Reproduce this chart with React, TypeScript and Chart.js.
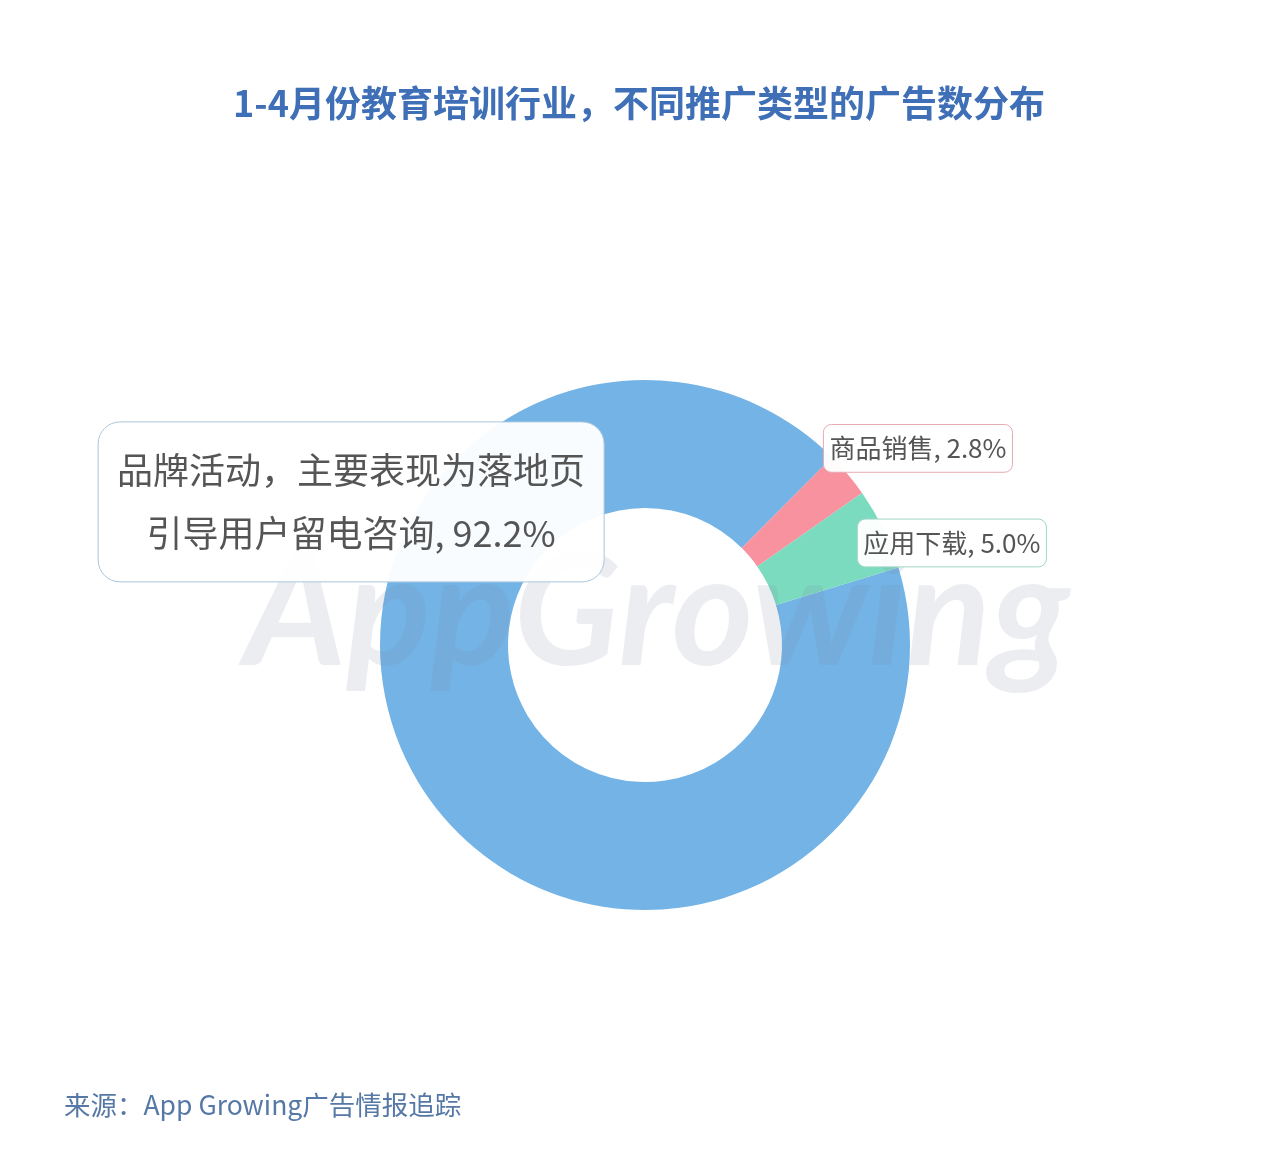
import React, { useEffect, useRef } from "react";
import { Chart, registerables } from "chart.js";

Chart.register(...registerables);

const TITLE = "1-4月份教育培训行业，不同推广类型的广告数分布";
const SOURCE = "来源：App Growing广告情报追踪";
const WATERMARK = "AppGrowing";

const categories = [
  "品牌活动，主要表现为落地页引导用户留电咨询",
  "商品销售",
  "应用下载",
];
const values = [92.2, 2.8, 5.0];
const labelLines = [
  ["品牌活动，主要表现为落地页", "引导用户留电咨询, 92.2%"],
  ["商品销售, 2.8%"],
  ["应用下载, 5.0%"],
];
const sliceColors = ["#74b3e6", "#f8929e", "#7bdbbf"];
const boxBorders = ["#a8c6dc", "#e6a9b0", "#9fd6c6"];

// label box centres relative to chart centre, in units of outer radius
const labelOffsets = [
  [-1.109, -0.54],
  [1.03, -0.742],
  [1.158, -0.385],
];
const labelFont = [36, 26, 26];

const FONT = '"Noto Sans CJK SC", "Noto Sans", sans-serif';

function roundRect(ctx: CanvasRenderingContext2D, x: number, y: number, w: number, h: number, r: number) {
  ctx.beginPath();
  ctx.moveTo(x + r, y);
  ctx.lineTo(x + w - r, y);
  ctx.arcTo(x + w, y, x + w, y + r, r);
  ctx.lineTo(x + w, y + h - r);
  ctx.arcTo(x + w, y + h, x + w - r, y + h, r);
  ctx.lineTo(x + r, y + h);
  ctx.arcTo(x, y + h, x, y + h - r, r);
  ctx.lineTo(x, y + r);
  ctx.arcTo(x, y, x + r, y, r);
  ctx.closePath();
}

const decorPlugin = {
  id: "decor",
  afterDatasetsDraw(chart: any) {
    const ctx: CanvasRenderingContext2D = chart.ctx;
    const meta = chart.getDatasetMeta(0);
    const a0 = meta.data[0];
    const { x: cx, y: cy, outerRadius: r } = a0.getProps(["x", "y", "outerRadius"], true);
    const W = chart.width;

    ctx.save();
    // watermark
    ctx.font = `italic 700 155px Lato, "Open Sans", sans-serif`;
    ctx.textAlign = "center";
    ctx.textBaseline = "alphabetic";
    const ww = ctx.measureText(WATERMARK).width;
    const scale = 825 / ww;
    ctx.translate(cx + 12, cy + 20);
    ctx.scale(scale, 1);
    ctx.fillStyle = "rgba(120,135,160,0.15)";
    ctx.fillText(WATERMARK, 0, 0);
    ctx.restore();

    // labels
    labelLines.forEach((lines, i) => {
      const fs = labelFont[i];
      ctx.save();
      ctx.font = `400 ${fs}px ${FONT}`;
      const lh = i === 0 ? 63 : fs * 1.3;
      const tw = Math.max(...lines.map((l) => ctx.measureText(l).width));
      const padX = i === 0 ? 19 : 6;
      const padY = i === 0 ? 17 : 7;
      const bw = tw + padX * 2;
      const bh = lh * lines.length + padY * 2;
      const bx = cx + labelOffsets[i][0] * r - bw / 2;
      const by = cy + labelOffsets[i][1] * r - bh / 2;
      roundRect(ctx, bx, by, bw, bh, i === 0 ? 22 : 8);
      ctx.fillStyle = "rgba(255,255,255,0.96)";
      ctx.fill();
      ctx.lineWidth = 1;
      ctx.strokeStyle = boxBorders[i];
      ctx.stroke();
      ctx.fillStyle = "#555555";
      ctx.textAlign = "center";
      ctx.textBaseline = "middle";
      lines.forEach((l, j) => {
        ctx.fillText(l, bx + bw / 2, by + padY + lh * (j + 0.5));
      });
      ctx.restore();
    });

    // title
    ctx.save();
    ctx.font = `700 36px ${FONT}`;
    ctx.fillStyle = "#3f6fb6";
    ctx.textAlign = "center";
    ctx.textBaseline = "middle";
    ctx.fillText(TITLE, 639, 103);
    // source
    ctx.font = `400 26.5px ${FONT}`;
    ctx.fillStyle = "#5578a6";
    ctx.textAlign = "left";
    ctx.fillText(SOURCE, 64, 1105);
    ctx.restore();
  },
};

export default function App() {
  const ref = useRef<HTMLCanvasElement | null>(null);
  useEffect(() => {
    if (!ref.current) return;
    const chart = new Chart(ref.current, {
      type: "doughnut",
      data: {
        labels: categories,
        datasets: [
          {
            data: values,
            backgroundColor: sliceColors,
            borderWidth: 0,
            hoverOffset: 0,
          },
        ],
      },
      options: {
        responsive: false,
        animation: false,
        rotation: 73,
        cutout: "51.7%",
        layout: { padding: { left: 380, right: 370, top: 380, bottom: 260 } },
        plugins: {
          legend: { display: false },
          tooltip: { enabled: false },
          title: { display: false },
        },
      },
      plugins: [decorPlugin],
    });
    return () => chart.destroy();
  }, []);
  return (
    <div style={{ position: "absolute", left: 0, top: 0, width: 1280, height: 1170, background: "#fff" }}>
      <canvas ref={ref} width={1280} height={1170} style={{ width: 1280, height: 1170, display: "block" }} />
    </div>
  );
}
